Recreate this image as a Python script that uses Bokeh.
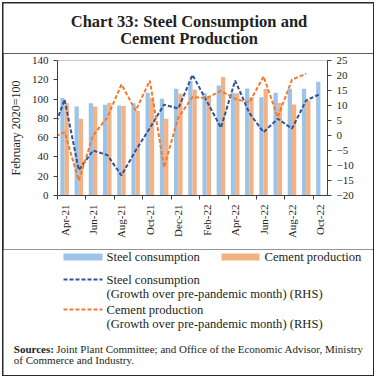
import math
from bokeh.plotting import figure
from bokeh.models import Range1d, LinearAxis, FixedTicker, CustomJSTickFormatter, Label
from bokeh.layouts import column
from bokeh.embed import file_html
from bokeh.resources import INLINE
from bokeh.core.properties import value

NaN = float("nan")

months = ["Apr-21", "May-21", "Jun-21", "Jul-21", "Aug-21", "Sep-21", "Oct-21",
          "Nov-21", "Dec-21", "Jan-22", "Feb-22", "Mar-22", "Apr-22", "May-22",
          "Jun-22", "Jul-22", "Aug-22", "Sep-22", "Oct-22"]
steel_index = [101, 92.3, 95.7, 94, 93.4, 95.7, 106.5, 100.3, 110.6, 119,
               106, 114, 106, 111, 102, 106.5, 110.6, 110.6, 118]
cement_index = [95.7, 79.5, 92.3, 96, 92.7, 88, 101, 79.5, 105.5, 110,
                103, 123, 106, 102, 110.6, 96, 94.4, 98.5, NaN]
# growth series; the first value (Mar-21) lies outside the visible range
steel_growth = [-1, 12, -11.5, -5, -6.5, -13.3, -5, 2.5, 10.3, 9, 20.2,
                11.5, 2.6, 18.3, 7.5, 1.1, 5.6, 2.3, 11.7, 13.9]
cement_growth = [-1, 1.1, -15, 0, 6, 17, 8.3, 18.3, -10.6, 6, 12.8,
                 12.5, 14.9, 12.2, 11, 19.7, 6.1, 18.6, 20.6, NaN]
left_ticks = [0, 20, 40, 60, 80, 100, 120, 140]
right_ticks = [-20, -15, -10, -5, 0, 5, 10, 15, 20, 25]
title_lines = ["Chart 33: Steel Consumption and", "Cement Production"]

STEEL_BAR = "#9DC3E6"
CEMENT_BAR = "#F4B183"
STEEL_LINE = "#2F5597"
CEMENT_LINE = "#ED7D31"
TXT = "#231F20"
AX = "#404040"
SERIF = "Liberation Serif"

W = 370
HT, HP, HQ = 50, 196, 126
BL, BR, BT, BB = 54, 46, 7, 54
n = len(months)
idx = list(range(n))
gidx = list(range(-1, n))


def panel(h):
    f = figure(width=W, height=h, output_backend="svg", toolbar_location=None,
               x_range=Range1d(0, W), y_range=Range1d(h, 0),
               x_axis_type=None, y_axis_type=None, min_border=0)
    f.outline_line_color = None
    f.xgrid.visible = False
    f.ygrid.visible = False
    try:
        f.frame_align = False
    except Exception:
        pass
    return f


# ---- title panel
t = panel(HT)
t.text(x=[185.5, 185.5], y=[18, 35], text=title_lines, text_align="center",
       text_baseline="middle", text_font=value(SERIF), text_font_size="16.5px",
       text_font_style="bold", text_color=TXT)

# ---- chart
p = figure(width=W, height=HP, output_backend="svg", toolbar_location=None,
           x_range=Range1d(-0.5, n - 0.5), y_range=Range1d(0, 140),
           min_border_left=BL, min_border_right=BR, min_border_top=BT,
           min_border_bottom=BB)
try:
    p.frame_align = False
except Exception:
    pass
p.extra_y_ranges = {"rhs": Range1d(-20, 25)}
p.outline_line_color = None
p.xgrid.visible = False
p.ygrid.visible = False

p.vbar(x=[i - 0.15 for i in idx], top=steel_index, width=0.3,
       fill_color=STEEL_BAR, line_color=None)
p.vbar(x=[i + 0.15 for i in idx], top=cement_index, width=0.3,
       fill_color=CEMENT_BAR, line_color=None)
p.line(x=gidx, y=steel_growth, y_range_name="rhs", line_color=STEEL_LINE,
       line_width=2, line_dash="4 2")
p.line(x=gidx, y=cement_growth, y_range_name="rhs", line_color=CEMENT_LINE,
       line_width=2, line_dash="4 2")

xa = p.xaxis[0]
xa.ticker = FixedTicker(ticks=list(range(0, n, 2)),
                        minor_ticks=[i - 0.5 for i in range(0, n, 2)])
xa.formatter = CustomJSTickFormatter(args=dict(m=months),
                                     code="return m[Math.round(tick)] || ''")
xa.major_tick_line_color = None
xa.minor_tick_in = 0
xa.minor_tick_out = 4
xa.minor_tick_line_color = AX
xa.major_label_orientation = math.pi / 2
xa.major_label_text_font = SERIF
xa.major_label_text_font_size = "11px"
xa.major_label_text_color = TXT
xa.axis_line_color = AX
xa.major_label_standoff = 3

ya = p.yaxis[0]
ya.ticker = FixedTicker(ticks=left_ticks)
ya.minor_tick_line_color = None
ya.major_tick_in = 0
ya.major_tick_out = 4
ya.major_tick_line_color = AX
ya.axis_line_color = AX
ya.major_label_text_font = SERIF
ya.major_label_text_font_size = "11px"
ya.major_label_text_color = TXT
ya.axis_label = "February 2020=100"
ya.axis_label_text_font = SERIF
ya.axis_label_text_font_style = "normal"
ya.axis_label_text_font_size = "12px"
ya.axis_label_text_color = TXT
ya.axis_label_standoff = 6

ra = LinearAxis(y_range_name="rhs", ticker=FixedTicker(ticks=right_ticks))
ra.minor_tick_line_color = None
ra.major_tick_in = 0
ra.major_tick_out = 4
ra.major_tick_line_color = AX
ra.axis_line_color = AX
ra.major_label_text_font = SERIF
ra.major_label_text_font_size = "11px"
ra.major_label_text_color = TXT
p.add_layout(ra, "right")

FW = W - BL - BR
p.add_layout(Label(x=n - 0.5 + (354 - (W - BR)) / FW * n, y=2.5, y_range_name="rhs",
                   text="per cent", angle=math.pi / 2, text_align="center",
                   text_baseline="middle", text_font=SERIF, text_font_size="12px",
                   text_color=TXT))

# ---- legend + sources panel
q = panel(HQ)
q.quad(left=[60, 218], right=[99, 256], top=[4, 4], bottom=[11, 11],
       fill_color=[STEEL_BAR, CEMENT_BAR], line_color=None)
q.line(x=[60, 99], y=[30, 30], line_color=STEEL_LINE, line_width=2, line_dash="4 2")
q.line(x=[60, 99], y=[60, 60], line_color=CEMENT_LINE, line_width=2, line_dash="4 2")
q.text(x=[103, 261, 103, 103, 103, 103],
       y=[7.5, 7.5, 30, 44, 60, 74],
       text=["Steel consumption", "Cement production", "Steel consumption",
             "(Growth over pre-pandemic month) (RHS)", "Cement production",
             " (Growth over pre-pandemic month) (RHS)"],
       text_font=value(SERIF), text_font_size="12.6px", text_baseline="middle",
       text_align="left", text_color=TXT)
q.text(x=[10.3], y=[99], text=["Sources:"], text_font=value(SERIF),
       text_font_size="11px", text_font_style="bold", text_baseline="middle",
       text_align="left", text_color=TXT)
q.text(x=[52.7, 10.3], y=[99, 110],
       text=["Joint Plant Committee; and Office of the Economic Advisor, Ministry",
             "of Commerce and Industry."],
       text_font=value(SERIF), text_font_size="11px", text_baseline="middle",
       text_align="left", text_color=TXT)

layout = column(t, p, q, spacing=0,
                styles={"background-color": "#2a2a2a", "padding": "1px",
                        "margin": "2px"})

open("out.html", "w").write(file_html(layout, INLINE))
